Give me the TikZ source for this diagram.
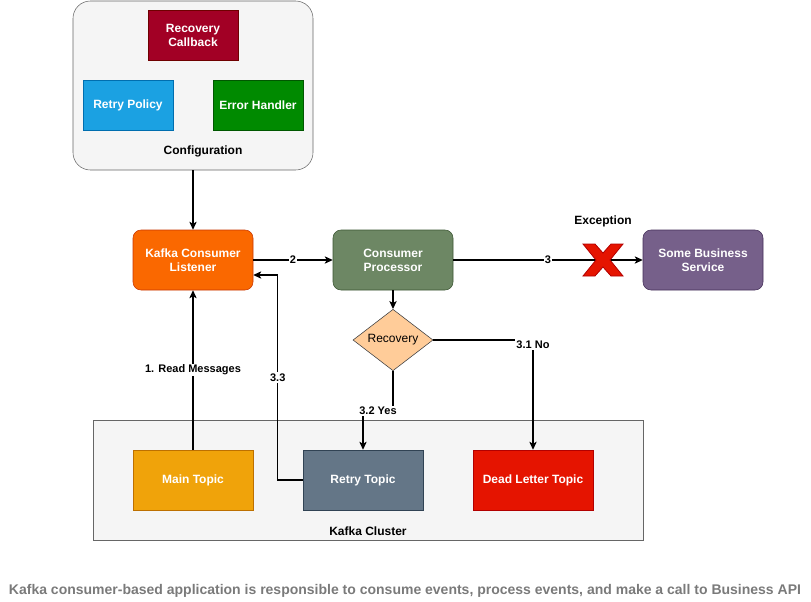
\documentclass[tikz,border=0pt]{standalone}
\usepackage{fontspec}
\setmainfont{Liberation Sans}
\usetikzlibrary{arrows.meta, positioning, shapes.geometric}

\definecolor{cfgfill}{HTML}{F5F5F5}
\definecolor{cfgline}{HTML}{666666}
\definecolor{cbfill}{HTML}{A20025}
\definecolor{cbline}{HTML}{6F0000}
\definecolor{rpfill}{HTML}{1BA1E2}
\definecolor{rpline}{HTML}{006EAF}
\definecolor{ehfill}{HTML}{008A00}
\definecolor{ehline}{HTML}{005700}
\definecolor{klfill}{HTML}{FA6800}
\definecolor{klline}{HTML}{C73500}
\definecolor{cpfill}{HTML}{6D8764}
\definecolor{cpline}{HTML}{3A5431}
\definecolor{bsfill}{HTML}{76608A}
\definecolor{bsline}{HTML}{432D57}
\definecolor{rcfill}{HTML}{FFCC99}
\definecolor{rcline}{HTML}{36393D}
\definecolor{mtfill}{HTML}{F0A30A}
\definecolor{mtline}{HTML}{BD7000}
\definecolor{rtfill}{HTML}{647687}
\definecolor{rtline}{HTML}{314354}
\definecolor{dlfill}{HTML}{E51400}
\definecolor{dlline}{HTML}{B20000}
\definecolor{capgray}{HTML}{7A7A7A}

\begin{document}
\begin{tikzpicture}[x=0.75pt, y=-0.75pt,
  box/.style={draw, align=center, text=white, font=\fontsize{9}{10.5}\selectfont\bfseries, inner sep=0pt},
  smallbox/.style={box, minimum width=67.5pt, minimum height=37.5pt},
  bigbox/.style={box, minimum width=90pt, minimum height=45pt},
  group/.style={draw=cfgline, fill=cfgfill, inner sep=0pt},
  arr/.style={-{Stealth[length=6pt, width=5.5pt, inset=1.5pt]}, line width=0.8pt},
  lbl/.style={fill=white, inner sep=1pt, font=\fontsize{8.25}{9.5}\selectfont\bfseries}]
\useasboundingbox (0,0) rectangle (811,601);

% configuration group
\node[group, rounded corners=13pt, minimum width=180pt, minimum height=126.75pt] (config) at (193,85.5) {};
\node[font=\fontsize{9}{10.5}\selectfont\bfseries] (configlbl) at (203,151) {Configuration};
\node[smallbox, fill=cbfill, draw=cbline] (callback) at (193,35) {Recovery\\Callback};
\node[smallbox, fill=rpfill, draw=rpline] (retrypolicy) at (128,105) {Retry Policy};
\node[smallbox, fill=ehfill, draw=ehline] (errhandler) at (258,105) {Error Handler};

% kafka cluster group
\node[group, minimum width=412.5pt, minimum height=90pt] (cluster) at (368,480) {};
\node[font=\fontsize{9}{10.5}\selectfont\bfseries] (clusterlbl) at (368,531) {Kafka Cluster};
\node[bigbox, fill=mtfill, draw=mtline] (maintopic) at (193,480) {Main Topic};
\node[bigbox, fill=rtfill, draw=rtline] (retrytopic) at (363,480) {Retry Topic};
\node[bigbox, fill=dlfill, draw=dlline] (deadletter) at (533,480) {Dead Letter Topic};

% consumer side
\node[bigbox, rounded corners=6pt, fill=klfill, draw=klline] (listener) at (193,260) {Kafka Consumer\\Listener};
\node[bigbox, rounded corners=6pt, fill=cpfill, draw=cpline] (processor) at (393,260) {Consumer\\Processor};
\node[bigbox, rounded corners=6pt, fill=bsfill, draw=bsline] (business) at (703,260) {Some Business\\Service};
\node[diamond, draw=rcline, fill=rcfill, minimum width=60pt, minimum height=45pt, inner sep=0pt,
  font=\fontsize{9}{10.5}\selectfont] (recovery) at (393,340) {Recovery};
\node[font=\fontsize{9}{10.5}\selectfont\bfseries] (exception) at (603,221) {Exception};

% connectors
\draw[arr] (config.south) -- (listener.north);
\draw[arr] (listener) -- node[lbl]{2} (processor);
\draw[arr] (processor) -- node[lbl]{3} (business);
\draw[arr] (processor) -- (recovery);
\draw[arr] (recovery.east) -| node[lbl, pos=0.52]{3.1 No} (deadletter.north);
\draw[arr] (recovery.south) -- ++(0,40) -| node[lbl, pos=0.25]{3.2 Yes} (retrytopic.north);
\draw[arr] (maintopic) -- node[lbl]{1. Read Messages} (listener);
\draw[arr] (retrytopic.west) -- ++(-25,0) |- node[lbl, pos=0.25]{3.3} ([yshift=-11.25pt]listener.east);

% failed call
\draw[fill=dlfill, draw=dlline, line width=0.6pt]
  (583,244) -- (595,244) -- (603,253) -- (611,244) -- (623,244) -- (610,260)
  -- (623,276) -- (611,276) -- (603,267) -- (595,276) -- (583,276) -- (596,260) -- cycle;

% caption
\node[text=capgray, font=\fontsize{10.5}{12}\selectfont\bfseries] (caption) at (405,591)
  {Kafka consumer-based application is responsible to consume events, process events, and make a call to Business API};
\end{tikzpicture}
\end{document}
